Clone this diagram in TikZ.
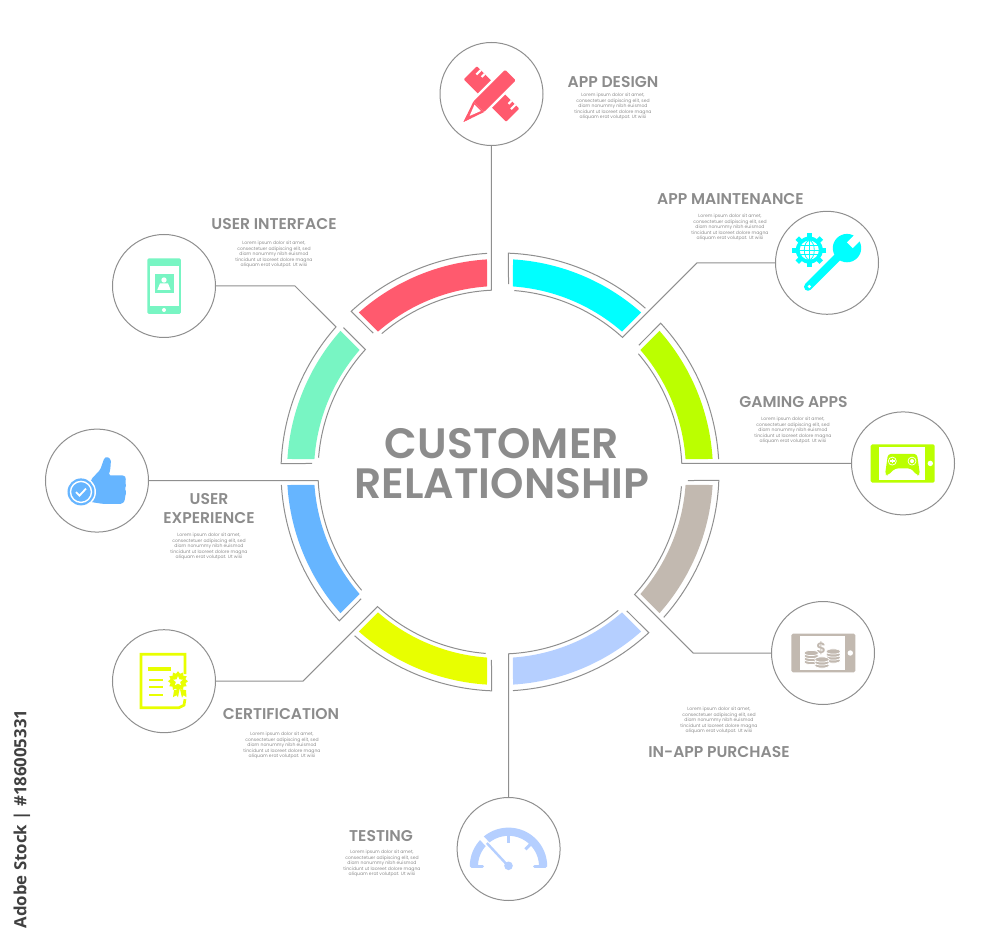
\documentclass[tikz,border=0pt]{standalone}
\usepackage{fontspec}
\setmainfont{Poppins}[BoldFont={Poppins SemiBold}]
\newfontfamily\stockfont{Open Sans}
\usepackage{tikz}
\usetikzlibrary{shapes.geometric}

\definecolor{linegray}{HTML}{8F8F8F}
\definecolor{textgray}{HTML}{8C8C8C}
\definecolor{appred}{HTML}{FF5A6E}
\definecolor{appcyan}{HTML}{00FFFF}
\definecolor{applime}{HTML}{BBFF00}
\definecolor{apptaupe}{HTML}{C2B9B0}
\definecolor{appsky}{HTML}{B5CFFF}
\definecolor{appyellow}{HTML}{E8FF00}
\definecolor{appblue}{HTML}{66B5FF}
\definecolor{appmint}{HTML}{78F5C3}

\newcommand{\loremtxt}{Lorem ipsum dolor sit amet,\\consectetuer adipiscing elit, sed\\diam nonummy nibh euismod\\tincidunt ut laoreet dolore magna\\aliquam erat volutpat. Ut wisi}

\tikzset{
	headlbl/.style={inner sep=0, text=textgray, align=center, font=\fontsize{15.6}{19}\selectfont\bfseries},
	loremlbl/.style={inner sep=0, text=textgray, align=center, font=\fontsize{4.55}{5.4}\selectfont},
	ringline/.style={draw=linegray, line width=1pt, line join=miter}
}

\begin{document}
\begin{tikzpicture}[x=1pt,y=1pt]
	\useasboundingbox (-500,-472) rectangle (500,472);

	\begin{scope}[every node/.style={circle, draw=linegray, line width=1pt, fill=white, inner sep=0, minimum size=103pt}]
		\node (des) at (-8.5,378) {};
		\node (mnt) at (327,209.2) {};
		\node (gam) at (403,8.6) {};
		\node (buy) at (323,-181) {};
		\node (tst) at (8.6,-377) {};
		\node (crt) at (-336,-209.2) {};
		\node (usx) at (-403,-8.6) {};
		\node (usi) at (-336,186) {};
	\end{scope}

	\coordinate (mntbend) at (197,209.2);
	\coordinate (buybend) at (193.1,-181);
	\coordinate (crtbend) at (-197,-209.2);
	\coordinate (usibend) at (-205,186);

	% coloured segments
	\fill[appred] (93.5:213) arc (93.5:131.5:213) -- (131:186) arc (131:94:186) -- cycle;
	\fill[appcyan] (48.5:213) arc (48.5:86.5:213) -- (86:186) arc (86:49:186) -- cycle;
	\fill[applime] (3.5:213) arc (3.5:41.5:213) -- (41:186) arc (41:4:186) -- cycle;
	\fill[apptaupe] (-41.5:213) arc (-41.5:-3.5:213) -- (-4:186) arc (-4:-41:186) -- cycle;
	\fill[appsky] (-86.5:213) arc (-86.5:-48.5:213) -- (-49:186) arc (-49:-86:186) -- cycle;
	\fill[appyellow] (-131.5:213) arc (-131.5:-93.5:213) -- (-94:186) arc (-94:-131:186) -- cycle;
	\fill[appblue] (183.5:213) arc (183.5:221.5:213) -- (221:186) arc (221:184:186) -- cycle;
	\fill[appmint] (138.5:213) arc (138.5:176.5:213) -- (176:186) arc (176:139:186) -- cycle;

	% outlines, each with its connector
	\draw[ringline] (93.4:219) arc (93.4:132.8:219) -- (132.4:188);
	\draw[ringline] (des) -- (92.7:182) arc (92.7:130.5:182);
	\draw[ringline] (48.4:219) arc (48.4:87.8:219) -- (87.4:188);
	\draw[ringline] (mnt) -- (mntbend) -- (47.7:182) arc (47.7:85.5:182);
	\draw[ringline] (3.4:219) arc (3.4:42.8:219) -- (42.4:188);
	\draw[ringline] (gam) -- (2.7:182) arc (2.7:40.5:182);
	\draw[ringline] (-41.6:219) arc (-41.6:-2.2:219) -- (-2.6:188);
	\draw[ringline] (buy) -- (buybend) -- (-42.3:182) arc (-42.3:-4.5:182);
	\draw[ringline] (-86.6:219) arc (-86.6:-47.2:219) -- (-47.6:188);
	\draw[ringline] (tst) -- (-87.3:182) arc (-87.3:-49.5:182);
	\draw[ringline] (-131.6:219) arc (-131.6:-92.2:219) -- (-92.6:188);
	\draw[ringline] (crt) -- (crtbend) -- (-132.3:182) arc (-132.3:-94.5:182);
	\draw[ringline] (183.4:219) arc (183.4:222.8:219) -- (222.4:188);
	\draw[ringline] (usx) -- (182.7:182) arc (182.7:220.5:182);
	\draw[ringline] (usi) -- (usibend) -- (138.5:219) arc (138.5:177.8:219) -- (177.4:188);
	\draw[ringline] (137.3:213) -- (137.7:182) arc (137.7:175.5:182);

	\begin{scope}[every node/.style={headlbl}]
		\node (desT) at (113,390) {APP DESIGN};
		\node (mntT) at (230.5,273) {APP MAINTENANCE};
		\node (gamT) at (293.5,70) {GAMING APPS};
		\node (buyT) at (219,-280) {IN-APP PURCHASE};
		\node (tstT) at (-119,-364) {TESTING};
		\node (crtT) at (-219,-242) {CERTIFICATION};
		\node (usxT) at (-291,-36.5) {USER\\EXPERIENCE};
		\node (usiT) at (-226,248) {USER INTERFACE};
	\end{scope}

	\begin{scope}[every node/.style={loremlbl}]
		\node (desL) at (113,365.5) {\loremtxt};
		\node (mntL) at (230,244.5) {\loremtxt};
		\node (gamL) at (293,41.5) {\loremtxt};
		\node (buyL) at (219,-248.5) {\loremtxt};
		\node (tstL) at (-118,-391.5) {\loremtxt};
		\node (crtL) at (-218,-273.5) {\loremtxt};
		\node (usxL) at (-291,-74.5) {\loremtxt};
		\node (usiL) at (-226,217.5) {\loremtxt};
	\end{scope}

	\node[inner sep=0, text=textgray, align=center, font=\fontsize{42.5}{40}\selectfont\bfseries] (title) at (2,8) {CUSTOMER\\RELATIONSHIP};
	\node[inner sep=0, rotate=90, text=black!75, font=\stockfont\fontsize{16.8}{20}\selectfont\bfseries] (stock) at (-478,-347) {Adobe Stock | \#186005331};

	% pencil and ruler
	\begin{scope}[shift={(des)}]
		\begin{scope}[rotate=-45]
			\fill[appred, rounded corners=1pt] (-30,-9.3) rectangle (30,9.3);
			\fill[white] (-25.5,3) rectangle (-23.5,9.5);
			\fill[white] (-20,5) rectangle (-18,9.5);
			\fill[white] (18,5) rectangle (20,9.5);
			\fill[white] (23.5,3) rectangle (25.5,9.5);
		\end{scope}
		\begin{scope}[rotate=45]
			\fill[white] (-44,0) -- (-17,-10) -- (29,-10) -- (29,10) -- (-17,10) -- cycle;
			\fill[appred, rounded corners=1pt] (-18,-7.5) -- (26.7,-7.5) -- (26.7,7.5) -- (-18,7.5) -- cycle;
			\fill[appred] (-39.5,0) -- (-18,-7.5) -- (-18,7.5) -- cycle;
			\fill[white] (-31,0) -- (-19.5,-4.5) -- (-19.5,4.5) -- cycle;
			\fill[appred] (-39.5,0) -- (-31,-2.8) -- (-31,2.8) -- cycle;
		\end{scope}
	\end{scope}

	% gear and wrench
	\begin{scope}[shift={(mnt)}]
		\begin{scope}[shift={(-17.7,12.7)}]
			\draw[appcyan, line width=5pt] (0:17) -- (180:17);
			\draw[appcyan, line width=5pt] (45:17) -- (225:17);
			\draw[appcyan, line width=5pt] (90:17) -- (270:17);
			\draw[appcyan, line width=5pt] (135:17) -- (315:17);
			\fill[appcyan] (0,0) circle (13.5);
			\fill[white] (0,0) circle (9.5);
			\draw[appcyan, line width=.8pt] (-10,0) -- (10,0);
			\draw[appcyan, line width=.8pt] (-9,4.2) -- (9,4.2);
			\draw[appcyan, line width=.8pt] (-9,-4.2) -- (9,-4.2);
			\draw[appcyan, line width=.8pt] (0,-10) -- (0,10);
			\draw[appcyan, line width=.8pt] (0,0) ellipse (5 and 9.5);
		\end{scope}
		\draw[appcyan, line width=8pt, line cap=round] (-19,-24) -- (16,11);
		\fill[white] (-17.7,-23.7) circle (1.7);
		\begin{scope}[shift={(20,14.7)}]
			\fill[appcyan] (0,0) circle (14.2);
			\begin{scope}[rotate=45]
				\fill[white] (4,-4) rectangle (20,4);
			\end{scope}
		\end{scope}
	\end{scope}

	% tablet with game pad
	\begin{scope}[shift={(gam)}]
		\fill[applime, rounded corners=1.5pt] (-32.3,19) rectangle (31.7,-19.3);
		\fill[white] (-23.7,16.3) rectangle (22,-16.7);
		\fill[white] (27.3,0) circle (2.7);
		\fill[applime, rounded corners=3pt] (-15,9.5) -- (14,9.5) -- (17,-11.5) -- (14,-12) -- (8,-5) -- (-8,-5) -- (-15,-12) -- (-18,-11.5) -- cycle;
		\draw[white, line width=.7pt] (-10.7,2.3) circle (4);
		\draw[white, line width=1.2pt] (-13,2.3) -- (-8.4,2.3);
		\draw[white, line width=1.2pt] (-10.7,0) -- (-10.7,4.6);
		\draw[white, line width=.7pt] (9,2.3) circle (4);
		\fill[white] (9,2.3) circle (2);
	\end{scope}

	% tablet with coins
	\begin{scope}[shift={(buy)}]
		\fill[apptaupe, rounded corners=1.5pt] (-31.7,19.3) rectangle (32.3,-19.3);
		\fill[white] (-23.3,16.7) rectangle (22.3,-16.7);
		\fill[white] (27.3,0) circle (2.7);
		\node[inner sep=0, text=apptaupe, font=\fontsize{15}{15}\selectfont\bfseries] (dollar) at (-1.7,5) {\$};
		\begin{scope}[draw=white, line width=.7pt, fill=apptaupe]
			\filldraw (-11.7,-9) ellipse (7.2 and 2.6);
			\filldraw (-11.7,-6) ellipse (7.2 and 2.6);
			\filldraw (-11.7,-3) ellipse (7.2 and 2.6);
			\filldraw (-11.7,0) ellipse (7.2 and 2.6);
			\filldraw (10.3,-7.5) ellipse (7.2 and 2.6);
			\filldraw (10.3,-4.5) ellipse (7.2 and 2.6);
			\filldraw (10.3,-1.5) ellipse (7.2 and 2.6);
			\filldraw (10.3,1.5) ellipse (7.2 and 2.6);
			\filldraw (-1,-12.5) ellipse (7.2 and 2.6);
			\filldraw (-1,-9.5) ellipse (7.2 and 2.6);
			\filldraw (-1,-6.5) ellipse (7.2 and 2.6);
		\end{scope}
	\end{scope}

	% speed gauge
	\begin{scope}[shift={(tst)}, shift={(-0.1,-17.3)}]
		\fill[appsky] (-38.7,0) arc (180:0:38.7) -- (30.5,0) arc (0:180:30.5) -- cycle;
		\draw[appsky, line width=3pt, line cap=round] (-37,0) -- (-26,0);
		\draw[appsky, line width=3pt, line cap=round] (37,0) -- (26,0);
		\draw[appsky, line width=3pt] (0,31) -- (0,23);
		\draw[appsky, line width=3pt] (45:31) -- (45:24);
		\draw[white, line width=5pt] (0,0) -- (-27,28.5);
		\draw[appsky, line width=2.4pt] (0,0) -- (-21.7,23.3);
		\fill[appsky] (0,0.5) circle (4.3);
	\end{scope}

	% certificate
	\begin{scope}[shift={(crt)}]
		\draw[appyellow, line width=2.7pt] (21,7) -- (21,27) -- (-23,27) -- (-23,-26.5) -- (15,-26.5) -- (20,-24) -- (21,-18);
		\draw[appyellow, line width=4pt] (-16,12) -- (7,12);
		\draw[appyellow, line width=2pt] (-14.5,1.3) -- (-1,1.3);
		\draw[appyellow, line width=2pt] (-14.5,-6) -- (-1,-6);
		\draw[appyellow, line width=2pt] (-14.5,-14) -- (-1,-14);
		\fill[appyellow] (10,-9) -- (15.5,-8) -- (14,-16) -- (12.5,-14) -- (9,-16) -- cycle;
		\fill[appyellow] (16,-8) -- (22,-9) -- (22.5,-16) -- (19.5,-14) -- (18,-16.5) -- cycle;
		\node[star, star points=12, star point ratio=1.3, fill=appyellow, inner sep=0, minimum size=20pt] (seal) at (14,0) {};
		\node[star, star points=5, star point ratio=2.2, fill=white, inner sep=0, minimum size=10pt] (sealstar) at (14,0) {};
	\end{scope}

	% thumb up with badge
	\begin{scope}[shift={(usx)}]
		\fill[appblue, rounded corners=1.5pt] (-6,1) -- (3.3,11) -- (7.3,22.5) -- (10,24) -- (14,21) -- (13.3,11) -- (11.7,5.3) -- (26.7,5.3) -- (29.3,2.7) -- (28,-1) -- (29.3,-4) -- (28,-8) -- (29.3,-12) -- (28,-16) -- (28,-20) -- (25,-23.3) -- (6,-23.3) -- (-6.7,-21.3) -- cycle;
		\fill[white] (-16,-11.3) circle (15);
		\fill[appblue] (-16,-11.3) circle (13.5);
		\draw[white, line width=1.4pt] (-16,-11.3) circle (10.5);
		\draw[white, line width=1.8pt] (-21,-11.5) -- (-17.5,-15) -- (-11,-8);
	\end{scope}

	% phone with portrait
	\begin{scope}[shift={(usi)}]
		\fill[appmint, rounded corners=1.5pt] (-16.7,27.7) rectangle (17,-28);
		\fill[white] (-14.3,20.3) rectangle (15,-19.7);
		\fill[white] (0,-24) circle (2);
		\fill[appmint] (-9,11.7) rectangle (9.7,-7.3);
		\fill[white] (0,6) circle (2.7);
		\fill[white] (-6.7,-4) -- (6.7,-4) -- (4,2.7) -- (-4,2.7) -- cycle;
	\end{scope}
\end{tikzpicture}
\end{document}
